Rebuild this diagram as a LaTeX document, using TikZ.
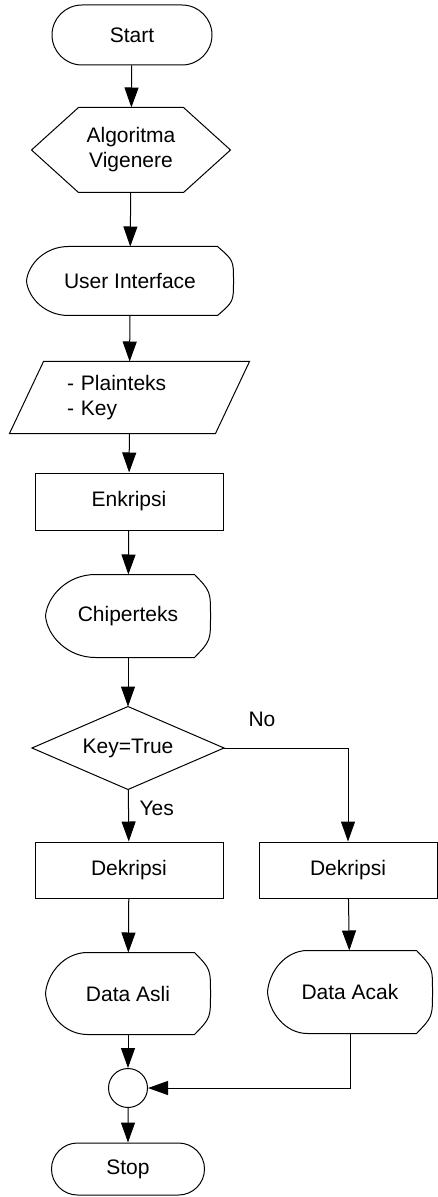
\documentclass[tikz,border=0pt]{standalone}
\usepackage{fontspec}
\setmainfont{Liberation Sans}
\usetikzlibrary{arrows.meta, shapes.misc, calc}

\tikzset{
  base/.style={font=\fontsize{10.5}{12.5}\selectfont, inner sep=0pt},
  terminal/.style={base, draw, rounded rectangle, minimum width=80pt, minimum height=30pt},
  process/.style={base, draw, rectangle, minimum width=94pt, minimum height=28.5pt},
  outline/.style={base, rectangle, minimum width=#1},
  junction/.style={draw, circle, minimum size=19.5pt, inner sep=0pt},
  lbl/.style={base}
}

% outlines drawn round plain rectangular nodes
\newcommand{\hexout}[1]{%
  \draw ($(#1.north west)+(23.5pt,0)$) -- ($(#1.north east)+(-23.5pt,0)$)
    -- (#1.east) -- ($(#1.south east)+(-23.5pt,0)$)
    -- ($(#1.south west)+(23.5pt,0)$) -- (#1.west) -- cycle;}
\newcommand{\ioout}[1]{%
  \draw ($(#1.north west)+(17pt,0)$) -- (#1.north east)
    -- ($(#1.south east)+(-17pt,0)$) -- (#1.south west) -- cycle;}
\newcommand{\decout}[1]{%
  \draw (#1.north) -- (#1.east) -- (#1.south) -- (#1.west) -- cycle;}
\newcommand{\dispout}[2]{%
  \draw ($(#1.north west)+(#2,0)$) -- ($(#1.north east)+(-8pt,0)$)
    .. controls ($(#1.north east)!0.4!(#1.east)$) .. (#1.east)
    .. controls ($(#1.south east)!0.4!(#1.east)$) .. ($(#1.south east)+(-8pt,0)$)
    -- ($(#1.south west)+(#2,0)$)
    .. controls ($(#1.south west)+(0.45*#2,0)$) and ($(#1.west)!0.5!(#1.south west)+(0.04*#2,0)$) .. (#1.west)
    .. controls ($(#1.west)!0.5!(#1.north west)+(0.04*#2,0)$) and ($(#1.north west)+(0.45*#2,0)$) .. ($(#1.north west)+(#2,0)$)
    -- cycle;}

\begin{document}
\begin{tikzpicture}[x=0.5pt, y=-0.5pt, line width=0.5pt,
    >={Triangle[length=10pt, width=7pt]}]
  \useasboundingbox (0,0) rectangle (438,1197);

  \node[terminal] (start) at (132,35) {Start};
  \node[outline=99pt, minimum height=42pt, align=center] (algo) at (131,150) {Algoritma\\Vigenere};
  \node[outline=103pt, minimum height=34pt] (ui) at (130,281) {User Interface};
  \node[outline=119.5pt, minimum height=35.5pt, text width=62.5pt, align=left] (input) at (129.5,397.5) {- Plainteks\\- Key};
  \node[process] (enc) at (129,501.5) {Enkripsi};
  \node[outline=82pt, minimum height=41pt] (cipher) at (128,616) {Chiperteks};
  \node[outline=95.5pt, minimum height=41pt] (check) at (128,748) {Key=True};
  \node[process, minimum height=28pt] (decyes) at (129,870) {Dekripsi};
  \node[process, minimum width=89pt, minimum height=28pt] (decno) at (348,870) {Dekripsi};
  \node[outline=82pt, minimum height=40.5pt] (plain) at (128,993.5) {Data Asli};
  \node[outline=82pt, minimum height=41pt] (random) at (350,992) {Data Acak};
  \node[junction] (merge) at (128,1088) {};
  \node[terminal, minimum width=76.5pt, minimum height=26pt] (stop) at (128,1169) {Stop};

  \node[lbl] (no) at (262,719) {No};
  \node[lbl, anchor=west] (yes) at (139,808) {Yes};

  \hexout{algo}
  \dispout{ui}{21pt}
  \ioout{input}
  \dispout{cipher}{25pt}
  \decout{check}
  \dispout{plain}{21pt}
  \dispout{random}{20pt}

  \draw[->] (start) -- (algo);
  \draw[->] (algo) -- (ui);
  \draw[->] (ui) -- (input);
  \draw[->] (input) -- (enc);
  \draw[->] (enc) -- (cipher);
  \draw[->] (cipher) -- (check);
  \draw[->] (check) -- (decyes);
  \draw[->] (check.east) -| (decno.north);
  \draw[->] (decyes) -- (plain);
  \draw[->] (decno) -- (random);
  \draw[->] (plain) -- (merge);
  \draw[->] (random.south) |- (merge.east);
  \draw[->] (merge) -- (stop);
\end{tikzpicture}
\end{document}
